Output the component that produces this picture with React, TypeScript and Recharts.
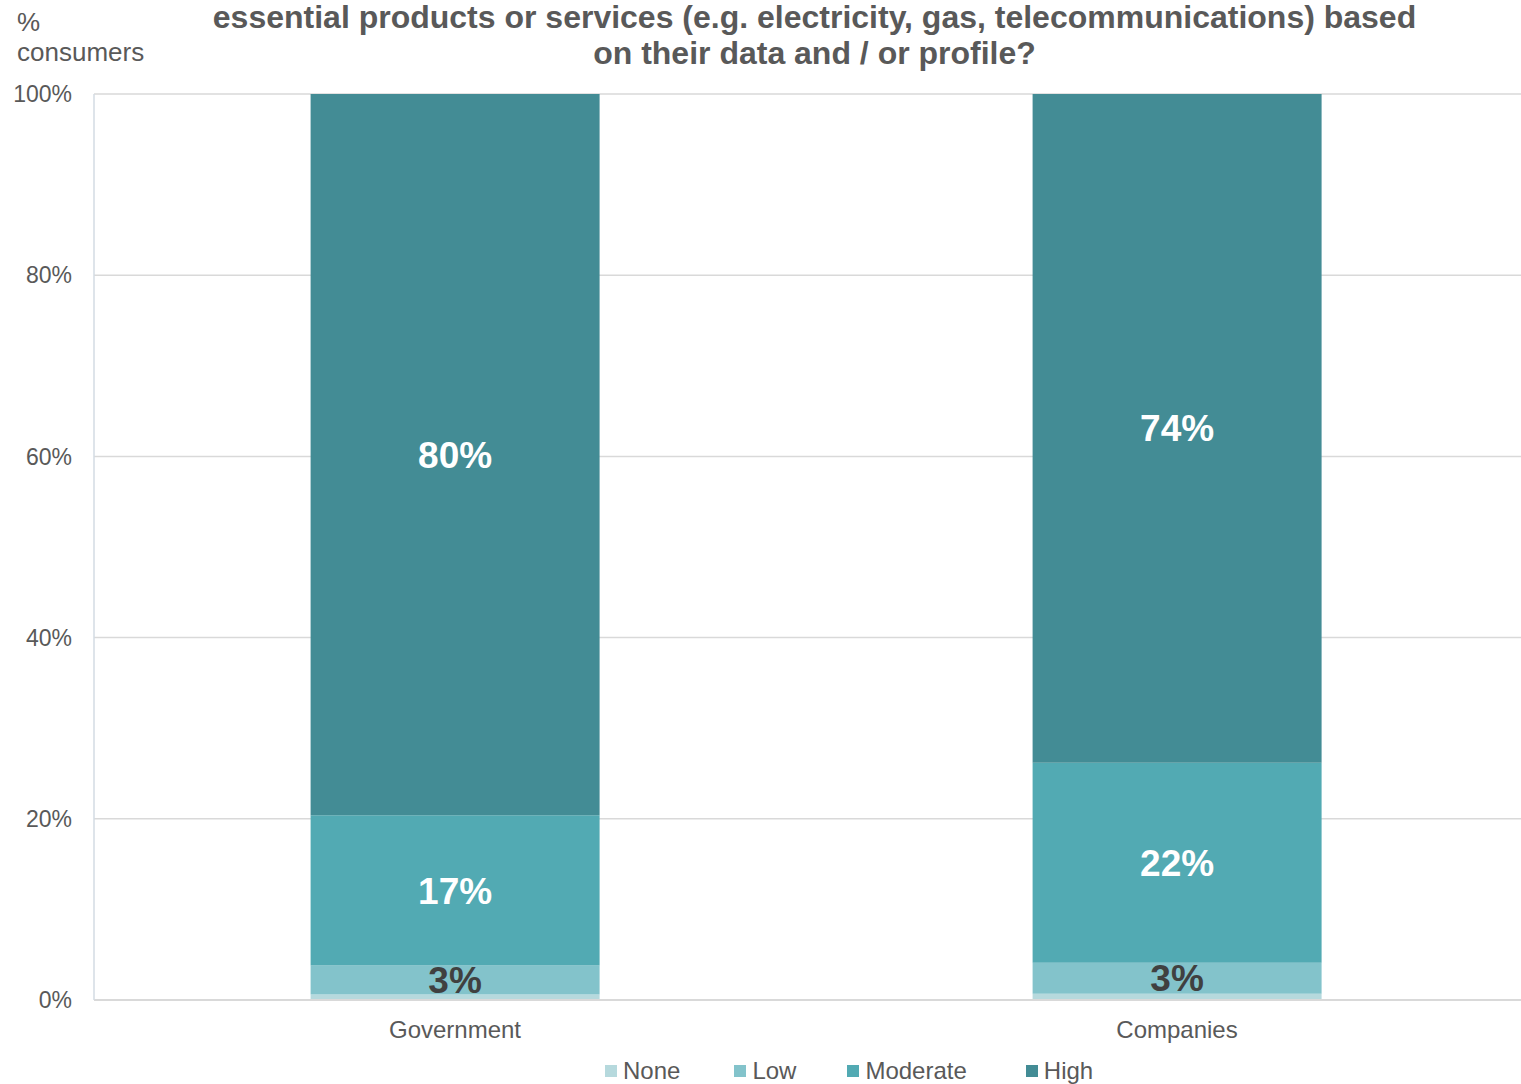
import { BarChart, Bar, XAxis, YAxis, CartesianGrid, LabelList } from "recharts";

const categories = ["Government", "Companies"];
const noneShare = [0.6, 0.7];
const lowShare = [3.2, 3.4];
const moderateShare = [16.6, 22.1];
const highShare = [79.6, 73.8];
const yTicks = [0, 20, 40, 60, 80, 100];
const seriesKeys = ["none", "low", "moderate", "high"];
const seriesNames = ["None", "Low", "Moderate", "High"];
const seriesColors = ["#b6d9dd", "#83c3cb", "#52aab3", "#438c95"];
const titleLines = [
  "essential products or services (e.g. electricity, gas, telecommunications) based",
  "on their data and / or profile?",
];

const data = categories.map((name, i) => ({
  name,
  none: noneShare[i],
  low: lowShare[i],
  moderate: moderateShare[i],
  high: highShare[i],
}));

const FONT = '"Liberation Sans", Arial, sans-serif';
const GREY = "#595959";

// spacing after each legend entry
const legendGaps = [54, 51, 59, 0];

const pct = (v: any) => `${Math.round(Number(v))}%`;

export default function App() {
  return (
    <div
      style={{
        position: "absolute",
        left: 0,
        top: 0,
        width: 1521,
        height: 1084,
        overflow: "hidden",
        background: "#fff",
        fontFamily: FONT,
      }}
    >
      <BarChart
        width={1542}
        height={1084}
        data={data}
        margin={{ top: 94, right: 4, left: 0, bottom: 0 }}
        barCategoryGap="30%"
      >
        <CartesianGrid vertical={false} stroke="#d9d9d9" strokeWidth={1.5} />
        <XAxis
          dataKey="name"
          height={84}
          tickLine={false}
          tickSize={0}
          tickMargin={21}
          axisLine={{ stroke: "#d9d9d9", strokeWidth: 2 }}
          tick={{ fill: GREY, fontSize: 24, fontFamily: FONT }}
        />
        <YAxis
          width={94}
          domain={[0, 100]}
          ticks={yTicks}
          tickFormatter={(v) => `${v}%`}
          tickLine={false}
          tickSize={0}
          tickMargin={22}
          axisLine={{ stroke: "#d3dbe3", strokeWidth: 1.5 }}
          tick={{ fill: GREY, fontSize: 23, fontFamily: FONT }}
        />
        {seriesKeys.map((key, i) => (
          <Bar
            key={key}
            dataKey={key}
            name={seriesNames[i]}
            stackId="a"
            fill={seriesColors[i]}
            isAnimationActive={false}
          >
            {key !== "none" && (
              <LabelList
                dataKey={key}
                position="center"
                formatter={pct}
                fill={key === "low" ? "#404040" : "#ffffff"}
                style={{ fontSize: 37, fontWeight: 700, fontFamily: FONT }}
              />
            )}
          </Bar>
        ))}
      </BarChart>

      {/* heading lines */}
      {titleLines.map((line, i) => (
        <div
          key={line}
          style={{
            position: "absolute",
            left: 814.5,
            top: -1 + i * 36,
            transform: "translateX(-50%)",
            whiteSpace: "nowrap",
            fontSize: 32,
            lineHeight: "36px",
            fontWeight: 700,
            color: GREY,
          }}
        >
          {line}
        </div>
      ))}

      {/* axis unit */}
      <div
        style={{
          position: "absolute",
          left: 17,
          top: 7,
          fontSize: 26,
          lineHeight: "30px",
          color: GREY,
        }}
      >
        %<br />
        consumers
      </div>

      {/* legend */}
      <div
        style={{
          position: "absolute",
          left: 605,
          top: 1058,
          display: "flex",
          alignItems: "center",
          fontSize: 24,
          lineHeight: "26px",
          color: GREY,
          whiteSpace: "nowrap",
        }}
      >
        {seriesNames.map((name, i) => (
          <div
            key={name}
            style={{ display: "flex", alignItems: "center", gap: 6, marginRight: legendGaps[i] }}
          >
            <span
              style={{
                display: "inline-block",
                width: 12,
                height: 12,
                background: seriesColors[i],
              }}
            />
            <span>{name}</span>
          </div>
        ))}
      </div>
    </div>
  );
}
